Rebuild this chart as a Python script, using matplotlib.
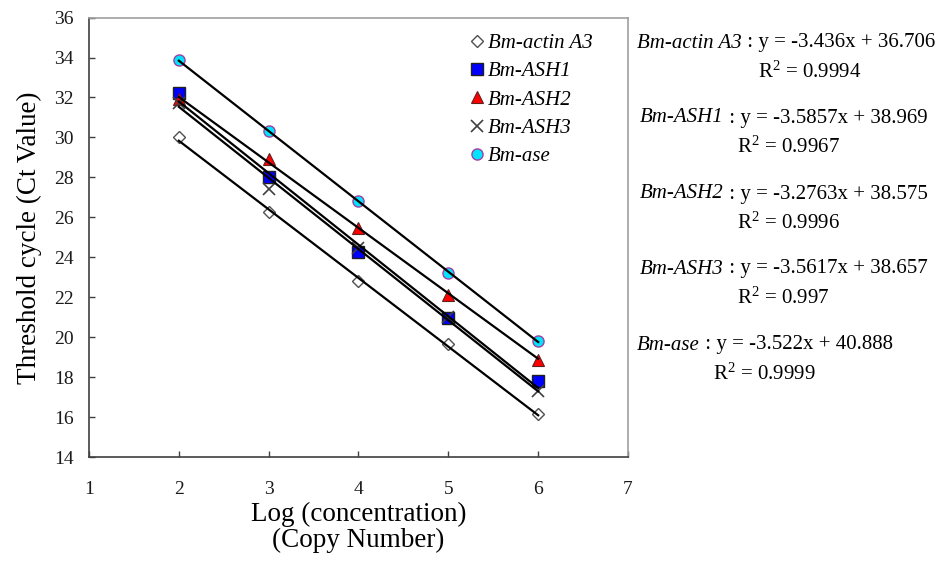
#!/usr/bin/env python3
"""Standard curves (Ct vs log copy number) for the Bm genes."""

import numpy as np
import matplotlib.pyplot as plt

log_conc = np.array([2, 3, 4, 5, 6])

genes = ["Bm-actin A3", "Bm-ASH1", "Bm-ASH2", "Bm-ASH3", "Bm-ase"]
ct_actin = [30.0, 26.25, 22.8, 19.65, 16.15]
ct_ash1 = [32.2, 28.0, 24.25, 20.95, 17.8]
ct_ash2 = [31.9, 28.9, 25.45, 22.1, 18.85]
ct_ash3 = [31.7, 27.4, 24.45, 21.0, 17.3]
ct_ase = [33.9, 30.3, 26.8, 23.2, 19.8]

# fitted trendlines as reported on the chart
slopes = [-3.436, -3.5857, -3.2763, -3.5617, -3.522]
intercepts = [36.706, 38.969, 38.575, 38.657, 40.888]
slope_txt = ["-3.436", "-3.5857", "-3.2763", "-3.5617", "-3.522"]
icpt_txt = ["36.706", "38.969", "38.575", "38.657", "40.888"]
r2_txt = ["0.9994", "0.9967", "0.9996", "0.997", "0.9999"]

SERIF = "Liberation Serif"
plt.rcParams.update({
    "font.family": SERIF,
    "mathtext.fontset": "custom",
    "mathtext.rm": SERIF,
    "mathtext.it": SERIF + ":italic",
})

styles = [
    dict(marker="D", ms=6.5, mfc="white", mec="#505050", mew=1.0),
    dict(marker="s", ms=8.5, mfc="#0000ff", mec="#202020", mew=1.0),
    dict(marker="^", ms=8.5, mfc="#ff0000", mec="#602020", mew=0.8),
    dict(marker="x", ms=8, mfc="none", mec="#404040", mew=1.2),
    dict(marker="o", ms=8, mfc="#00e5ff", mec="#a040a0", mew=1.0),
]
series = [ct_actin, ct_ash1, ct_ash2, ct_ash3, ct_ase]

fig = plt.figure(figsize=(9.45, 5.74), dpi=100)
ax = fig.add_axes([89 / 945, 1 - 457 / 574, 539 / 945, 439.4 / 574])

for name, ct, st in zip(genes, series, styles):
    ax.plot(log_conc, ct, ls="none", label=name, zorder=2, **st)

xfit = np.array([log_conc.min(), log_conc.max()])
for m, b in zip(slopes, intercepts):
    ax.plot(xfit, m * xfit + b, color="black", lw=1.6, zorder=3)

ax.set_xlim(1, 7)
ax.set_ylim(14, 36)
ax.set_xticks(range(1, 8))
ax.set_yticks(range(14, 37, 2))
ax.tick_params(direction="in", length=4, width=1, colors="#404040",
               labelcolor="#1a1a1a", labelsize=14)
ax.tick_params(axis="x", pad=17)
ax.tick_params(axis="y", pad=11)

for side in ("left", "bottom"):
    ax.spines[side].set_color("#404040")
    ax.spines[side].set_linewidth(1.2)
for side in ("top", "right"):
    ax.spines[side].set_color("#a0a0a0")
    ax.spines[side].set_linewidth(1.2)

ax.set_xlabel("Log (concentration)\n(Copy Number)", fontsize=19.5,
              labelpad=3, linespacing=1.05)
ax.set_ylabel("Threshold cycle (Ct Value)", fontsize=19.5, labelpad=8.5)

ax.legend(loc="upper left", bbox_to_anchor=(0.706, 0.964), frameon=False,
          prop={"family": SERIF, "style": "italic", "size": 15},
          handlelength=0.7, handletextpad=0.18, labelspacing=0.42,
          borderpad=0, borderaxespad=0)

# equations on the right of the plot
eq_x = [637, 640, 640, 640, 637]
eq_y = [43, 118, 194, 269, 345]
r2_x = [758, 737, 737, 737, 713]
for i in range(len(genes)):
    t = fig.text(eq_x[i] / 945, 1 - eq_y[i] / 574, genes[i], style="italic",
                 fontsize=15, va="center", ha="left")
    ax.annotate(f" : y = {slope_txt[i]}x + {icpt_txt[i]}", xy=(1, 0),
                xycoords=t, va="bottom", ha="left", fontsize=15,
                annotation_clip=False)
    fig.text(r2_x[i] / 945, 1 - (eq_y[i] + 29) / 574, f"R$^2$ = {r2_txt[i]}",
             fontsize=15, va="center", ha="left")

fig.savefig("out.png", dpi=100)
